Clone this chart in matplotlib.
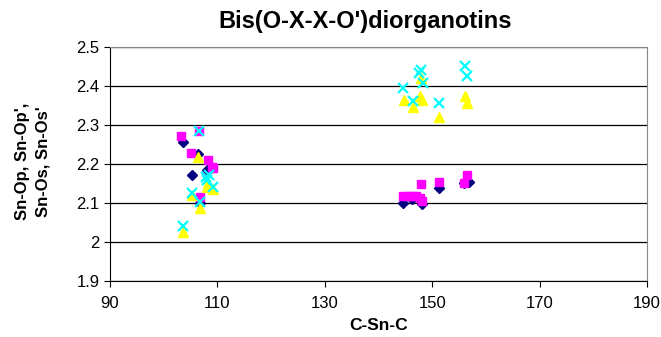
import matplotlib
matplotlib.use("Agg")
import matplotlib.pyplot as plt

plt.rcParams['font.family'] = ['Liberation Sans', 'DejaVu Sans']

# Sn-Op (rombos azules)
x_op = [103.5, 105.3, 106.4, 106.8, 108.0, 108.8, 144.6, 146.2, 148.0, 151.3, 155.9, 156.8]
y_op = [2.257, 2.172, 2.225, 2.100, 2.185, 2.189, 2.100, 2.110, 2.097, 2.138, 2.150, 2.155]

# Sn-Op' (cuadrados magenta)
x_op2 = [103.3, 105.1, 106.6, 106.8, 108.2, 108.9, 109.2, 144.6, 145.4, 146.2, 147.0,
         147.7, 148.0, 147.9, 151.3, 155.9, 156.5]
y_op2 = [2.272, 2.227, 2.285, 2.115, 2.210, 2.193, 2.190, 2.118, 2.118, 2.118, 2.118,
         2.112, 2.105, 2.148, 2.155, 2.152, 2.172]

# Sn-Os (triangulos amarillos)
x_os = [103.5, 105.2, 106.4, 106.8, 108.0, 108.2, 109.2, 144.7, 146.4, 147.7, 148.0,
        147.9, 151.3, 156.1, 156.5]
y_os = [2.026, 2.120, 2.219, 2.086, 2.140, 2.150, 2.135, 2.364, 2.347, 2.373, 2.364,
        2.420, 2.321, 2.373, 2.356]

# Sn-Os' (cruces cian)
x_os2 = [103.5, 105.2, 106.6, 106.8, 107.9, 108.5, 108.0, 109.2, 144.6, 146.4, 147.9,
         147.6, 148.2, 151.3, 156.1, 156.5]
y_os2 = [2.042, 2.126, 2.285, 2.103, 2.167, 2.172, 2.159, 2.142, 2.394, 2.362, 2.441,
         2.433, 2.407, 2.356, 2.450, 2.426]

x_ticks = [90, 110, 130, 150, 170, 190]
y_ticks = [1.9, 2.0, 2.1, 2.2, 2.3, 2.4, 2.5]

fig = plt.figure(figsize=(6.61, 3.37), dpi=100)
ax = fig.add_axes([0.1664, 0.166, 0.8126, 0.695])

ax.plot(x_op, y_op, linestyle='none', marker='D', markersize=5, color='#000080', zorder=3)
ax.plot(x_op2, y_op2, linestyle='none', marker='s', markersize=6, color='#FF00FF', zorder=3)
ax.plot(x_os, y_os, linestyle='none', marker='^', markersize=7, color='#FFFF00', zorder=3)
ax.plot(x_os2, y_os2, linestyle='none', marker='x', markersize=7, markeredgewidth=1.6,
        color='#00FFFF', zorder=4)

ax.set_xlim(90, 190)
ax.set_ylim(1.9, 2.5)
ax.set_xticks(x_ticks)
ax.set_yticks(y_ticks)
ax.set_yticklabels([f"{v:g}" for v in y_ticks])
ax.yaxis.grid(True, color='black', linewidth=0.9)
ax.set_axisbelow(True)

for s in ['top', 'right']:
    ax.spines[s].set_color('#888888')
ax.spines['left'].set_color('black')
ax.spines['bottom'].set_color('black')
ax.tick_params(axis='both', labelsize=12, direction='out', length=4, color='black')
ax.tick_params(axis='x', pad=7)

fig.text(0.573, 0.035, 'C-Sn-C', fontsize=12.5, fontweight='bold', ha='center', va='center')
fig.text(0.05, 0.52, "Sn-Op, Sn-Op',\nSn-Os, Sn-Os'", fontsize=12, fontweight='bold',
         rotation=90, ha='center', va='center', multialignment='center', linespacing=1.45)
fig.text(0.552, 0.935, "Bis(O-X-X-O')diorganotins", fontsize=17, fontweight='bold',
         ha='center', va='center')

fig.savefig('out.png', dpi=100)
